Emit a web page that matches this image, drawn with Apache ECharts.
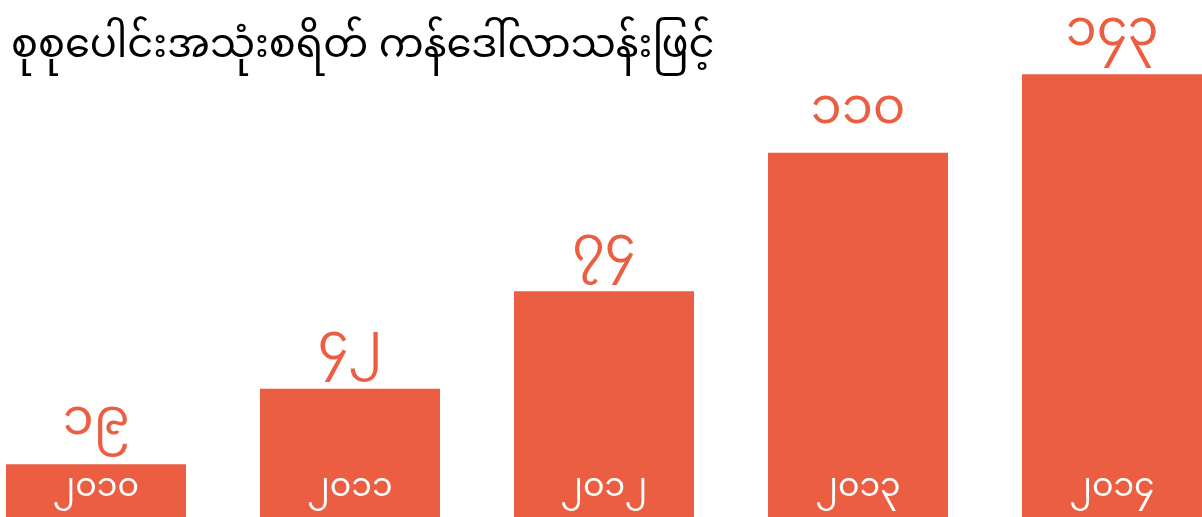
<!DOCTYPE html>
<html>
<head>
<meta charset="utf-8">
<script src="https://cdn.jsdelivr.net/npm/echarts@6/dist/echarts.min.js"></script>
<style>
  html, body { margin: 0; padding: 0; background: #fff; }
  #main { width: 1202px; height: 517px; }
</style>
</head>
<body>
<div id="main"></div>
<script>
let title = 'စုစုပေါင်းအသုံးစရိတ် ကန်ဒေါ်လာသန်းဖြင့်'
let years = ['၂၀၁၀', '၂၀၁၁', '၂၀၁၂', '၂၀၁၃', '၂၀၁၄']
// bar heights
let values = [19, 43, 74, 118, 143]
// numbers printed above the bars
let valueLabels = ['၁၉', '၄၂', '၇၄', '၁၁၀', '၁၄၃']

let font = "'Noto Sans Myanmar', 'Padauk', 'Myanmar Text', 'Noto Sans', sans-serif"
let red = '#EB5E42'

let chart = echarts.init(document.getElementById('main'))
let option = {
    animation: false,
    title: {
        text: title,
        left: 6,
        top: 28,
        textStyle: {
            fontFamily: font,
            fontSize: 40,
            fontWeight: 'normal',
            color: '#000'
        }
    },
    // bars sit on the ticks, the outer ones run past the grid edges
    grid: {
        left: 96,
        right: 90,
        top: 0,
        bottom: 0,
        containLabel: false
    },
    xAxis: {
        type: 'category',
        data: years,
        boundaryGap: false,
        axisLine: { show: false },
        axisTick: { show: false },
        axisLabel: {
            inside: true,
            margin: 8,
            color: '#fff',
            fontFamily: font,
            fontSize: 33
        },
        z: 10
    },
    yAxis: {
        type: 'value',
        min: 2.2,
        max: 166.6,
        show: false,
        splitLine: { show: false }
    },
    series: [
        {
            type: 'bar',
            data: values,
            barWidth: 180,
            clip: false,
            silent: true,
            itemStyle: { color: red },
            label: {
                show: true,
                position: 'top',
                distance: 10,
                color: red,
                fontFamily: font,
                fontSize: 50,
                formatter: (p) => valueLabels[p.dataIndex]
            }
        }
    ]
}
chart.setOption(option)
</script>
</body>
</html>
